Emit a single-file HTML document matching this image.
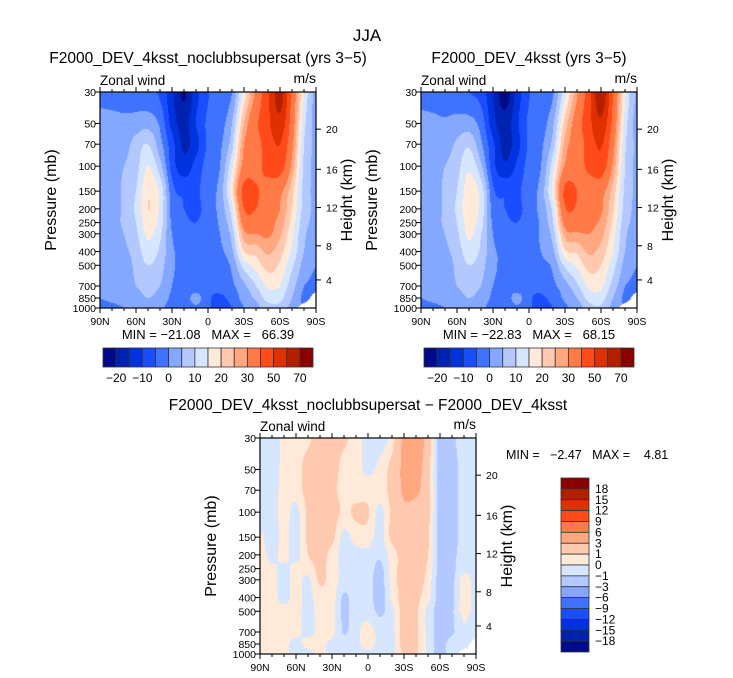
<!DOCTYPE html>
<html><head><meta charset="utf-8">
<style>
html,body{margin:0;padding:0;background:#fff;}
#root{position:relative;width:733px;height:678px;overflow:hidden;background:#fff;}
canvas{position:absolute;}
svg{position:absolute;left:0;top:0;}
text{font-family:"Liberation Sans",sans-serif;fill:#000;}
</style></head>
<body>
<div id="root">
<canvas id="c1"></canvas>
<canvas id="c2"></canvas>
<canvas id="c3"></canvas>
<svg id="ov" width="733" height="678">
<text x="367" y="41" font-size="17" text-anchor="middle">JJA</text>
<text x="208" y="63" font-size="15.5" text-anchor="middle">F2000_DEV_4ksst_noclubbsupersat (yrs 3−5)</text>
<text x="529" y="63" font-size="15.5" text-anchor="middle">F2000_DEV_4ksst (yrs 3−5)</text>
<text x="368" y="410" font-size="15.5" text-anchor="middle">F2000_DEV_4ksst_noclubbsupersat − F2000_DEV_4ksst</text>
<text x="208" y="339" font-size="13" text-anchor="middle" xml:space="preserve">MIN = −21.08   MAX =   66.39</text>
<text x="529" y="339" font-size="13" text-anchor="middle" xml:space="preserve">MIN = −22.83   MAX =   68.15</text>
<text x="506" y="459" font-size="12.5" xml:space="preserve">MIN =   −2.47   MAX =    4.81</text>
</svg>
</div>
<script>
// ---- data ----
const lats = [90,80,70,60,50,40,30,20,10,0,-10,-20,-30,-40,-50,-60,-70,-80,-90];
const levels = [30,50,70,100,150,200,250,300,400,500,700,850,1000];
const latTickLabels = ["90N","60N","30N","0","30S","60S","90S"];
const latTickValues = [90,60,30,0,-30,-60,-90];
const pTickValues = [30,50,70,100,150,200,250,300,400,500,700,850,1000];
const hTickLabels = ["20","16","12","8","4"];
const hTickFrac = [0.172,0.358,0.535,0.712,0.870];
const windBounds = [-20,-15,-10,-5,0,5,10,15,20,25,30,40,50,60,70];
const windLabels = ["−20","−10","0","10","20","30","50","70"];
const diffBounds = [-18,-15,-12,-9,-6,-3,-1,0,1,3,6,9,12,15,18];
const diffLabels = ["18","15","12","9","6","3","1","0","−1","−3","−6","−9","−12","−15","−18"];
const palette = ["#000a8a","#0022b0","#0033dd","#1a4dff","#3f73ff","#84a8ff","#b3c8ff","#d6e6ff","#ffeada","#ffc9b0","#ffa880","#ff7a47","#ff4b1a","#e03000","#b32000","#8b0000"];

const u1 = [
[-2,-2,-2,-3,-4,-6,-14,-21,-12,-5.5,-3,0,17,32,48,65,38,15,3],
[2,1.5,1,2,3,-1,-12,-17,-10,-4,-2,5,25,38,48,57,35,12,3],
[3,3,3,7,10,2,-8,-16,-12,-4,-1,8,30,36,45,50,32,10,4],
[3,3,5,8,15,7,-7,-13,-8,-3,0,14,33,37,43,45,28,9,4],
[3,3,6,10,19,14,-3,-6,-6,-2,2,18,43,41,36,32,22,8,4],
[3,3,6,11,20,14,-2,-5,-6,-3,2,13,40,40,34,30,20,8,4],
[2,3,6,10,18,13,-1,-4,-5,-3,1,10,34,36,32,28,18,7,4],
[2,3,5,9,16,11,0,-3,-4,-3,0,7,28,30,31,26,16,6,3],
[2,2,4,7,13,9,1,-2,-3,-3,-1,4,20,22,26,22,14,5,2],
[2,2,3,6,10,7,1,-2,-3,-3,-2,1,12,17,22,19,11,3,0],
[1,2,3,5,7,5,0,-2,-3,-4,-3,-1,4,10,16,15,7,0,-2],
[0,1,2,3,5,3,-1,-3,2,-4,-6,-3,2,6,12,12,5,-2,null],
[-1,-1,0,1,3,1,-2,-3,-1,-4,-7,-5,0,3,8,8,3,null,null]];

const u2 = [
[-2,-2,-2,-3,-5,-7,-15,-23,-13,-5.5,-3,-0.5,14,29,46,68,40,16,4],
[1.5,1,0.5,1.5,2,-2,-13,-18,-11,-4,-2,4,22,35,47,58,37,13,3],
[2.5,2.5,2.5,6,9,1,-9,-17,-12,-4,-1,7,27,34,44,51,33,11,4],
[3,3,5,8,14,6,-8,-14,-9,-3,0,13,31,36,42,46,29,10,4],
[3,3,6,10,18,13,-4,-6,-6,-2,2,17,42,40,35,33,23,9,4],
[3,3,6,11,19,13,-2,-5,-6,-3,2,12,39,39,33,31,21,8,4],
[2,3,6,10,17,12,-1,-4,-5,-3,1,10,33,35,31,29,19,7,4],
[2,3,5,9,16,10,0,-3,-4,-3,1,7,27,29,30,27,17,6,3],
[2,2,4,7,13,9,1,-1,-3,-3,0,4,19,21,26,23,15,5,2],
[2,2,3,6,10,7,1,-1,-3,-3,-1,1,11,16,22,20,12,3,0],
[1,2,3,5,7,5,0,-1,-3,-4,-3,-1,3,9,16,16,8,0,-2],
[0,1,2,3,5,3,-1,-3,2,-4,-6,-3,1,5,12,13,5,-2,null],
[-1,-1,0,1,3,1,-2,-3,-1,-4,-7,-5,-1,2,8,9,3,null,null]];

const du = [
[-0.5,-0.5,0.2,0.5,0.8,1.5,1.5,1.2,0.5,-0.5,-0.5,0.5,3.5,4.5,2,-1.5,-1.2,-0.5,-0.5],
[-0.5,-0.5,0.3,0.5,1.5,1.5,1.5,0.6,0.4,-0.2,0.3,1.5,3.5,4,1.5,-1.5,-1.5,-0.5,-0.5],
[-0.5,-0.5,0.4,0.4,1.5,1.5,1.3,0.6,0.5,0.5,0.5,1.5,3.3,3.5,1.5,-1.5,-1.5,-0.5,-0.5],
[-0.5,-0.5,0.4,-0.3,1.2,1.5,1.5,0.8,1.2,1.1,-0.3,1.3,2.5,2,1.3,-1.5,-1.5,-0.5,-0.5],
[0.2,-0.5,0.3,-0.4,1.2,1.5,1.3,-0.3,0.4,0.5,-0.4,1.3,1.5,1.5,1.2,-1.5,-1.5,-0.5,-0.5],
[0.4,-0.3,0.3,-0.4,1.0,1.5,0.6,-0.4,-0.3,-0.3,-0.8,0.5,1.5,1.5,1,-1.5,-1.3,-0.5,-0.5],
[0.4,0.2,-0.2,0.3,0.4,1.3,0.5,-0.3,-0.3,-0.4,-1.3,0.4,1.5,1.5,0.8,-1.5,-1.3,-0.3,-0.5],
[0.4,0.3,-0.3,0.3,-0.2,1.2,0.5,-0.3,-0.3,-0.5,-1.5,0.4,1.5,1.5,0.6,-1.5,-1.3,0.4,-0.5],
[0.4,0.3,-0.3,0.3,-0.3,0.5,0.5,-1.2,-0.4,-0.5,-1.5,0.2,1.5,1.3,0.3,-1.5,-1.3,0.5,-0.5],
[0.4,0.4,0.3,0.3,-0.3,0.3,0.3,-1.2,-0.4,-0.4,-1.2,-0.3,1.5,1.2,-0.3,-1.5,-1.2,0.5,-0.5],
[0.4,0.4,0.3,0.3,-0.3,0.3,0.3,-1.1,-0.3,0.4,-0.4,-0.3,1.5,1.2,-0.3,-1.5,-1.2,-0.3,-0.5],
[0.4,0.3,0.3,-0.3,0.3,0.3,-0.3,-0.5,-0.3,0.4,-0.3,-0.3,1.5,1.2,-0.3,-1.5,-0.5,-0.3,null],
[0.4,0.3,0.2,-0.3,-0.4,0.3,-0.3,-0.3,-0.3,-0.3,-0.3,-0.3,1.2,1.2,-0.3,-1.5,-0.5,null,null]];

// ---- layout ----
const P1 = {x:100,y:92,w:216,h:216};
const P2 = {x:421,y:92,w:216,h:216};
const P3 = {x:260,y:438,w:216,h:216};
const NS = "http://www.w3.org/2000/svg";
const ov = document.getElementById('ov');
const LNP = Math.log(1000/30);

function xScale(P,lat){ return P.x + (90-lat)/180*P.w; }
function yScale(P,p){ return P.y + Math.log(p/30)/LNP*P.h; }
function binOf(v,b){ let k=0; for(const t of b){ if(v>=t) k++; } return k; }
function cr(p0,p1,p2,p3,t){
  return 0.5*((2*p1)+(-p0+p2)*t+(2*p0-5*p1+4*p2-p3)*t*t+(-p0+3*p1-3*p2+p3)*t*t*t);
}

function drawField(id,P,field,bounds){
  const cv=document.getElementById(id);
  cv.width=P.w; cv.height=P.h;
  cv.style.left=P.x+'px'; cv.style.top=P.y+'px';
  const ctx=cv.getContext('2d');
  const img=ctx.createImageData(P.w,P.h);
  const rgb=palette.map(c=>[parseInt(c.slice(1,3),16),parseInt(c.slice(3,5),16),parseInt(c.slice(5,7),16)]);
  const lnl=levels.map(p=>Math.log(p));
  const NR=levels.length, NC=lats.length;
  const get=(r,c)=>field[Math.max(0,Math.min(NR-1,r))][Math.max(0,Math.min(NC-1,c))];
  for(let j=0;j<P.h;j++){
    const lp=Math.log(30)+(j+0.5)/P.h*LNP;
    let r=0; while(r<NR-2 && lnl[r+1]<lp) r++;
    const fy=Math.min(1,Math.max(0,(lp-lnl[r])/(lnl[r+1]-lnl[r])));
    for(let i=0;i<P.w;i++){
      const cf=(i+0.5)/P.w*(NC-1);
      let c=Math.min(NC-2,Math.floor(cf));
      const fx=cf-c;
      const o=(j*P.w+i)*4;
      let hasNull=false;
      for(let a=-1;a<=2&&!hasNull;a++)for(let b=-1;b<=2;b++){ if(get(r+a,c+b)===null){hasNull=true;break;} }
      let val;
      if(!hasNull){
        const rows=[];
        for(let a=-1;a<=2;a++) rows.push(cr(get(r+a,c-1),get(r+a,c),get(r+a,c+1),get(r+a,c+2),fx));
        val=cr(rows[0],rows[1],rows[2],rows[3],fy);
      } else {
        const pts=[[field[r][c],(1-fx)*(1-fy)],[field[r][c+1],fx*(1-fy)],[field[r+1][c],(1-fx)*fy],[field[r+1][c+1],fx*fy]];
        let s=0,w=0,wn=0;
        for(const [v,ww] of pts){ if(v===null){wn+=ww;} else {s+=v*ww; w+=ww;} }
        if(wn>0.5||w===0){ img.data[o]=255;img.data[o+1]=255;img.data[o+2]=255;img.data[o+3]=255; continue; }
        val=s/w;
      }
      const col=rgb[binOf(val,bounds)];
      img.data[o]=col[0];img.data[o+1]=col[1];img.data[o+2]=col[2];img.data[o+3]=255;
    }
  }
  ctx.putImageData(img,0,0);
}

function line(x1,y1,x2,y2,name,sw){
  const l=document.createElementNS(NS,'line');
  l.setAttribute('x1',x1);l.setAttribute('y1',y1);l.setAttribute('x2',x2);l.setAttribute('y2',y2);
  l.setAttribute('stroke','#000');l.setAttribute('stroke-width',sw||1);
  
  
  ov.appendChild(l); return l;
}
function txt(x,y,s,size,anchor,name,rot){
  const t=document.createElementNS(NS,'text');
  t.setAttribute('x',x);t.setAttribute('y',y);t.setAttribute('font-size',size);
  t.setAttribute('text-anchor',anchor||'start');
  if(rot) t.setAttribute('transform','rotate('+rot+' '+x+' '+y+')');
  t.textContent=s;
  
  
  ov.appendChild(t); return t;
}

function axes(P,tag){
  const r=document.createElementNS(NS,'rect');
  r.setAttribute('x',P.x);r.setAttribute('y',P.y);r.setAttribute('width',P.w);r.setAttribute('height',P.h);
  r.setAttribute('fill','none');r.setAttribute('stroke','#000');r.setAttribute('stroke-width','1.2');
  
  
  ov.appendChild(r);
  for(let lat=90;lat>=-90;lat-=10){
    const x=xScale(P,lat); const major=(lat%30===0); const L=major?5:3;
    line(x,P.y,x,P.y-L,tag+'-top-tick');
    line(x,P.y+P.h,x,P.y+P.h+L,tag+'-bottom-tick');
  }
  latTickLabels.forEach((s,k)=>{ txt(xScale(P,latTickValues[k]),P.y+P.h+17,s,10.5,'middle',tag+'-x-tick-label'); });
  pTickValues.forEach(p=>{
    const y=yScale(P,p);
    line(P.x,y,P.x-5,y,tag+'-left-tick');
    txt(P.x-4,y+4,String(p),10.5,'end',tag+'-y-tick-label');
  });
  hTickFrac.forEach((f,k)=>{
    const y=P.y+f*P.h;
    line(P.x+P.w,y,P.x+P.w+5,y,tag+'-right-tick');
    txt(P.x+P.w+10,y+4,hTickLabels[k],10.5,'start',tag+'-height-tick-label');
  });
  txt(P.x-44,P.y+P.h/2,'Pressure (mb)',16,'middle',tag+'-y-axis-title',-90);
  txt(P.x+P.w+36,P.y+P.h/2,'Height (km)',16,'middle',tag+'-height-axis-title',-90);
  txt(P.x,P.y-7,'Zonal wind',13.5,'start',tag+'-variable-label');
  txt(P.x+P.w,P.y-9,'m/s',14,'end',tag+'-units-label');
}

function hbar(x0,y0,w,h,tag){
  const bw=w/16;
  palette.forEach((c,k)=>{
    const r=document.createElementNS(NS,'rect');
    r.setAttribute('x',x0+k*bw);r.setAttribute('y',y0);r.setAttribute('width',bw);r.setAttribute('height',h);
    r.setAttribute('fill',c);r.setAttribute('stroke','#333');r.setAttribute('stroke-width','0.8');
    
    
    ov.appendChild(r);
  });
  windLabels.forEach((s,k)=>{ txt(x0+(2*k+1)*bw,y0+h+15,s,12,'middle',tag+'-colorbar-label'); });
}
function vbar(x0,y0,w,h,tag){
  const bh=h/16;
  palette.slice().reverse().forEach((c,k)=>{
    const r=document.createElementNS(NS,'rect');
    r.setAttribute('x',x0);r.setAttribute('y',y0+k*bh);r.setAttribute('width',w);r.setAttribute('height',bh);
    r.setAttribute('fill',c);r.setAttribute('stroke','#333');r.setAttribute('stroke-width','0.8');
    
    
    ov.appendChild(r);
  });
  diffLabels.forEach((s,k)=>{ txt(x0+w+6,y0+(k+1)*bh+4,s,12,'start',tag+'-colorbar-label'); });
}

drawField('c1',P1,u1,windBounds);
drawField('c2',P2,u2,windBounds);
drawField('c3',P3,du,diffBounds);
axes(P1,'panel1'); axes(P2,'panel2'); axes(P3,'panel3');
hbar(103,348,210,19,'panel1');
hbar(424,348,210,19,'panel2');
vbar(561,478,28,174,'panel3');
</script>
</body></html>
